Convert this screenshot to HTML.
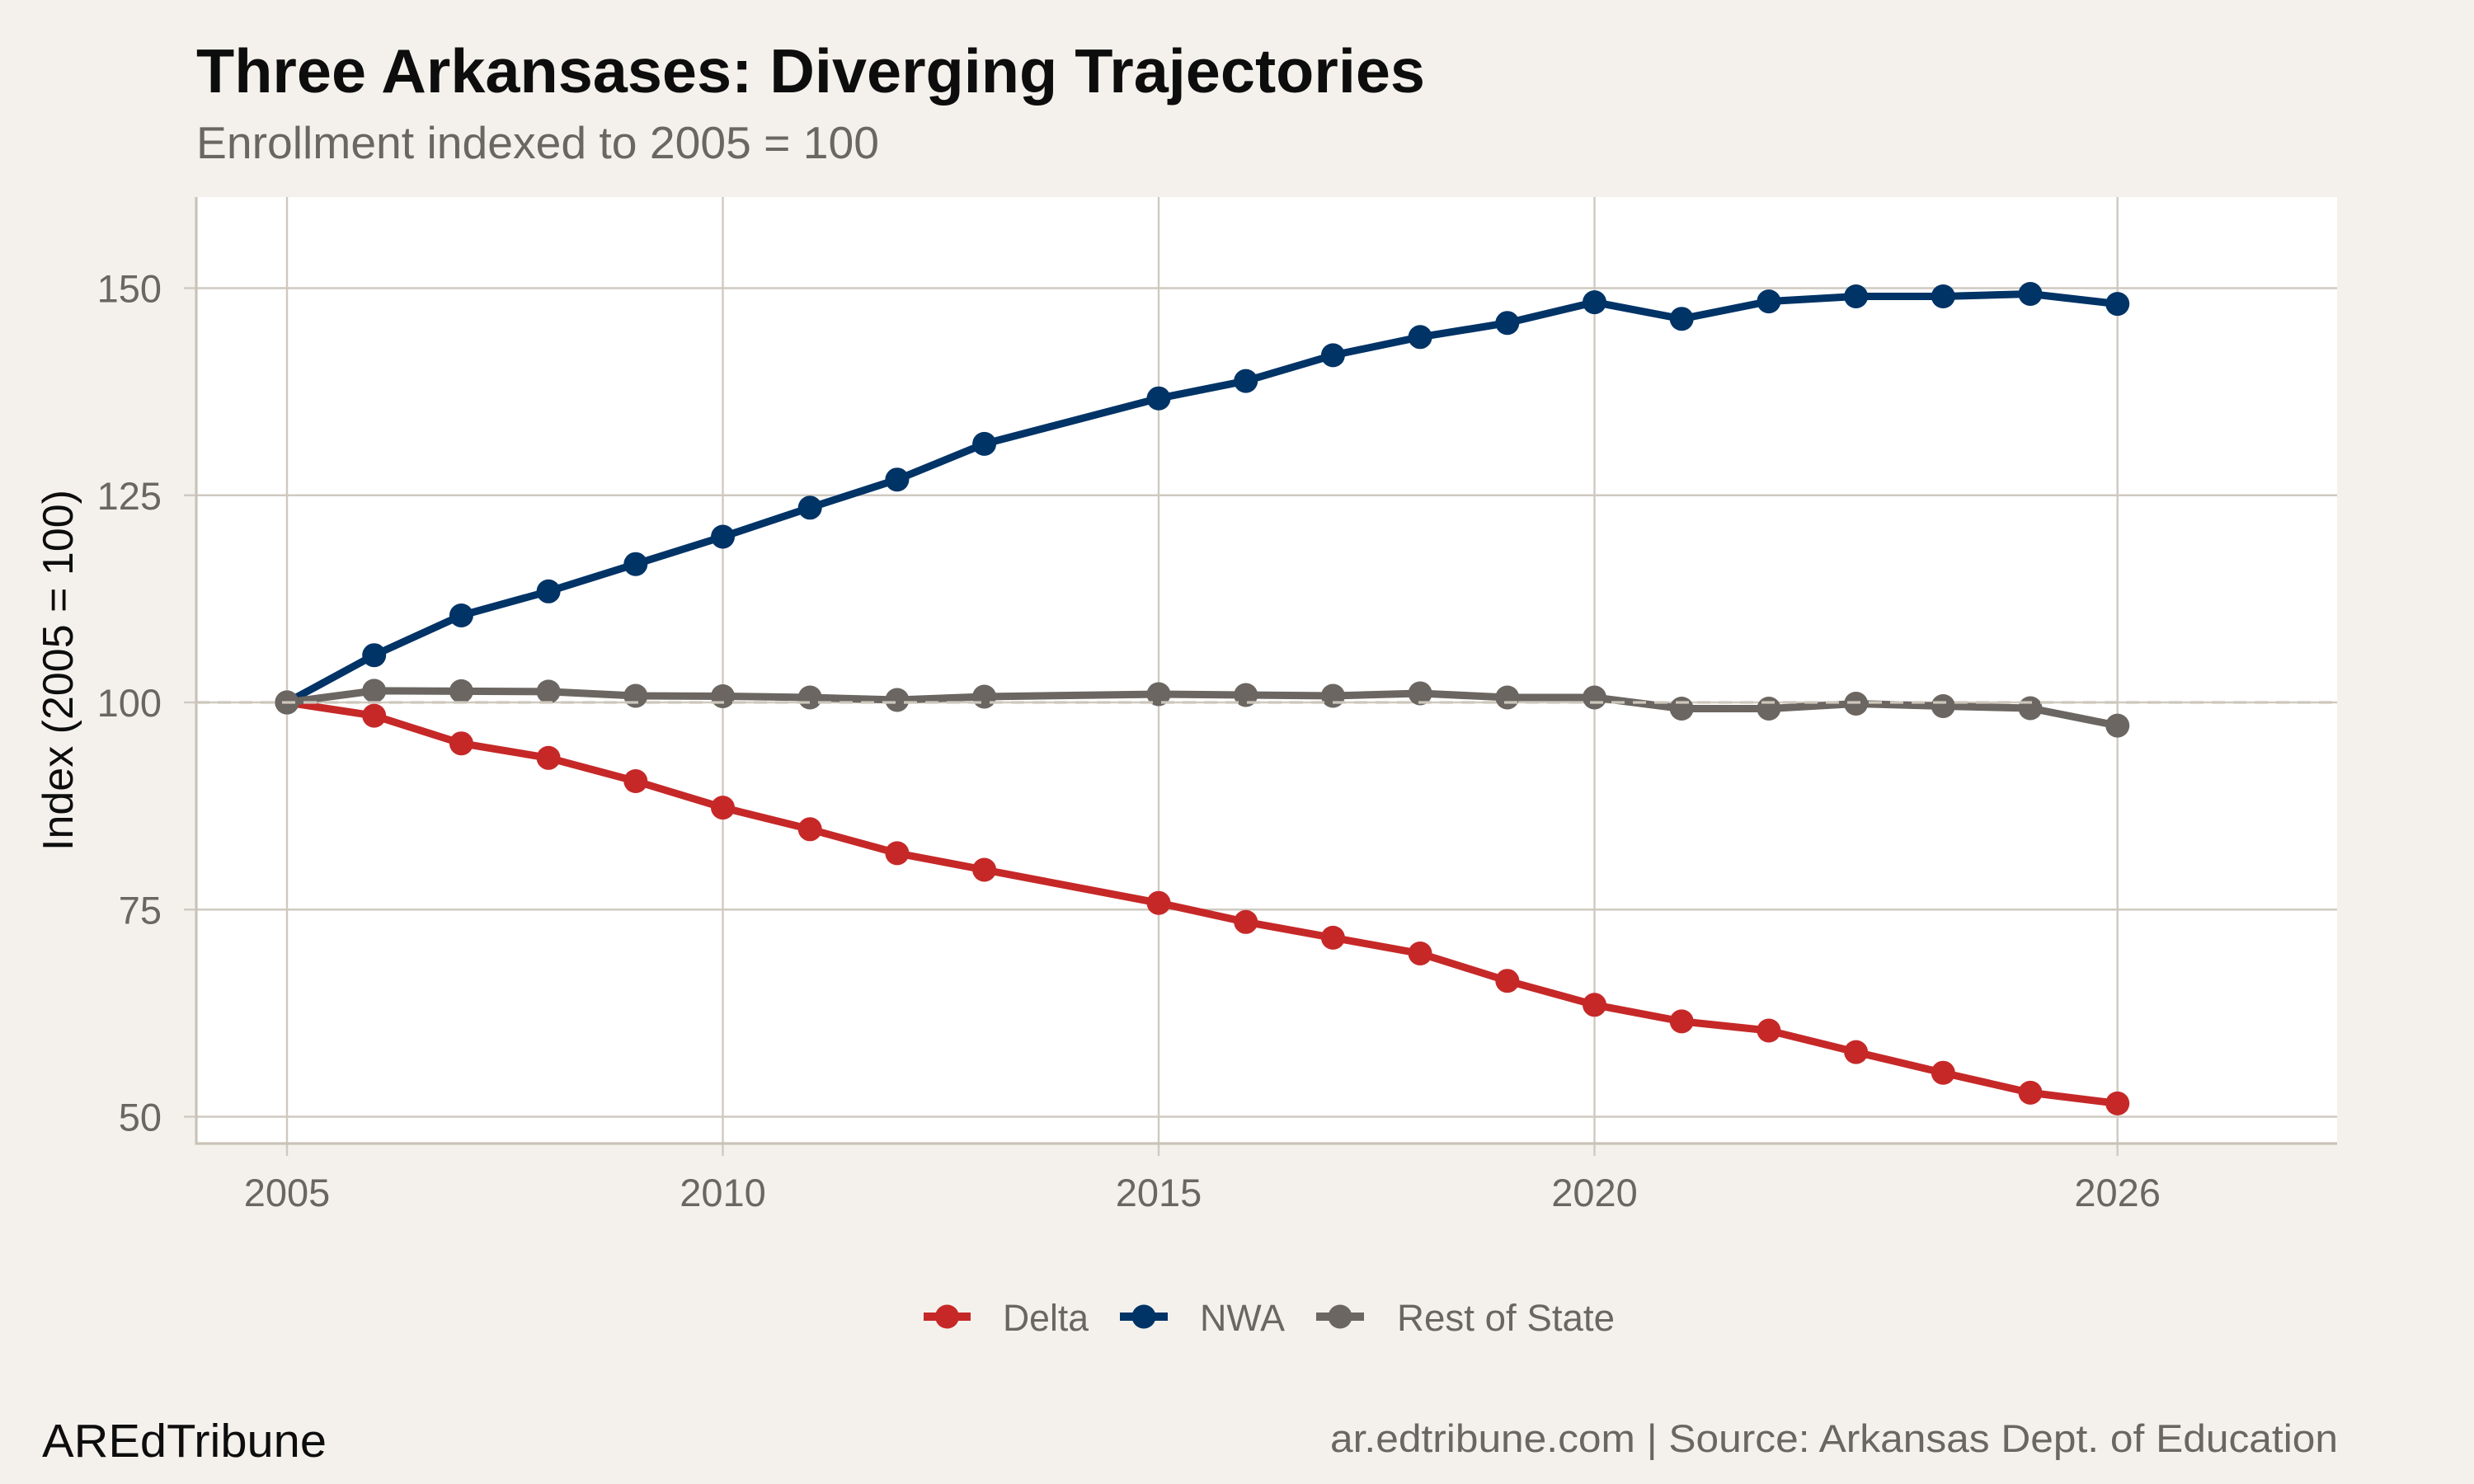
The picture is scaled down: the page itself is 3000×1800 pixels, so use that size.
<!DOCTYPE html>
<html><head><meta charset="utf-8"><style>
html,body{margin:0;padding:0;background:#f4f1ec;}
svg{display:block;}
text{font-family:"Liberation Sans",Arial,sans-serif;}
</style></head><body>
<svg width="3000" height="1800" viewBox="0 0 3000 1800" xmlns="http://www.w3.org/2000/svg">
<rect x="0" y="0" width="3000" height="1800" fill="#f4f1ec"/>
<!-- title -->
<text x="238" y="112" font-size="75" font-weight="bold" fill="#0d0d0d" textLength="1490" lengthAdjust="spacingAndGlyphs">Three Arkansases: Diverging Trajectories</text>
<text x="238" y="192" font-size="55" fill="#6b6661" textLength="828" lengthAdjust="spacingAndGlyphs">Enrollment indexed to 2005 = 100</text>
<!-- panel -->
<rect x="238" y="239" width="2596" height="1148" fill="#ffffff"/>
<g stroke="#cfc9c0" stroke-width="2.4" fill="none">
<line x1="238" y1="349.5" x2="2834" y2="349.5"/>
<line x1="238" y1="600.75" x2="2834" y2="600.75"/>
<line x1="238" y1="852" x2="2834" y2="852"/>
<line x1="238" y1="1103.25" x2="2834" y2="1103.25"/>
<line x1="238" y1="1354.5" x2="2834" y2="1354.5"/>
<line x1="348" y1="239" x2="348" y2="1387"/>
<line x1="876.5" y1="239" x2="876.5" y2="1387"/>
<line x1="1405" y1="239" x2="1405" y2="1387"/>
<line x1="1933.5" y1="239" x2="1933.5" y2="1387"/>
<line x1="2567.7" y1="239" x2="2567.7" y2="1387"/>
</g>
<!-- ticks -->
<g stroke="#cfc9c0" stroke-width="2.4">
<line x1="223" y1="349.5" x2="238" y2="349.5"/>
<line x1="223" y1="600.75" x2="238" y2="600.75"/>
<line x1="223" y1="852" x2="238" y2="852"/>
<line x1="223" y1="1103.25" x2="238" y2="1103.25"/>
<line x1="223" y1="1354.5" x2="238" y2="1354.5"/>
<line x1="348" y1="1387" x2="348" y2="1402"/>
<line x1="876.5" y1="1387" x2="876.5" y2="1402"/>
<line x1="1405" y1="1387" x2="1405" y2="1402"/>
<line x1="1933.5" y1="1387" x2="1933.5" y2="1402"/>
<line x1="2567.7" y1="1387" x2="2567.7" y2="1402"/>
</g>
<!-- axis lines -->
<g stroke="#c9c2b8" stroke-width="3.2">
<line x1="238" y1="239" x2="238" y2="1388.5"/>
<line x1="236.5" y1="1387" x2="2834" y2="1387"/>
</g>
<!-- series lines -->
<g fill="none" stroke-width="9" stroke-linejoin="round" stroke-linecap="butt">
<polyline stroke="#c62828" points="348,852 453.7,868.1 559.4,901.7 665.1,919.3 770.8,947.5 876.5,979.6 982.2,1005.8 1087.9,1034.9 1193.6,1055 1405,1095.2 1510.7,1118.3 1616.4,1137.4 1722.1,1156.5 1827.8,1189.7 1933.5,1218.8 2039.2,1238.9 2144.9,1250 2250.6,1276.1 2356.3,1301.2 2462,1325.4 2567.7,1338.4"/>
<polyline stroke="#003366" points="348,852 453.7,794.7 559.4,746.5 665.1,717.3 770.8,684.2 876.5,651 982.2,615.8 1087.9,581.7 1193.6,538.4 1405,483.2 1510.7,462.1 1616.4,430.9 1722.1,408.8 1827.8,391.7 1933.5,366.6 2039.2,386.7 2144.9,365.6 2250.6,359.5 2356.3,359.5 2462,356.5 2567.7,368.6"/>
<polyline stroke="#6b6661" points="348,852 453.7,837.9 559.4,838.4 665.1,838.9 770.8,844 876.5,844.5 982.2,846 1087.9,849 1193.6,845 1405,842 1510.7,843 1616.4,844 1722.1,841 1827.8,846 1933.5,846 2039.2,859.5 2144.9,859.5 2250.6,853.5 2356.3,856.5 2462,859 2567.7,880.1"/>
</g>
<!-- points -->
<g fill="#c62828">
<circle cx="348" cy="852" r="14.5"/><circle cx="453.7" cy="868.1" r="14.5"/><circle cx="559.4" cy="901.7" r="14.5"/><circle cx="665.1" cy="919.3" r="14.5"/><circle cx="770.8" cy="947.5" r="14.5"/><circle cx="876.5" cy="979.6" r="14.5"/><circle cx="982.2" cy="1005.8" r="14.5"/><circle cx="1087.9" cy="1034.9" r="14.5"/><circle cx="1193.6" cy="1055" r="14.5"/><circle cx="1405" cy="1095.2" r="14.5"/><circle cx="1510.7" cy="1118.3" r="14.5"/><circle cx="1616.4" cy="1137.4" r="14.5"/><circle cx="1722.1" cy="1156.5" r="14.5"/><circle cx="1827.8" cy="1189.7" r="14.5"/><circle cx="1933.5" cy="1218.8" r="14.5"/><circle cx="2039.2" cy="1238.9" r="14.5"/><circle cx="2144.9" cy="1250" r="14.5"/><circle cx="2250.6" cy="1276.1" r="14.5"/><circle cx="2356.3" cy="1301.2" r="14.5"/><circle cx="2462" cy="1325.4" r="14.5"/><circle cx="2567.7" cy="1338.4" r="14.5"/>
</g>
<g fill="#003366">
<circle cx="348" cy="852" r="14.5"/><circle cx="453.7" cy="794.7" r="14.5"/><circle cx="559.4" cy="746.5" r="14.5"/><circle cx="665.1" cy="717.3" r="14.5"/><circle cx="770.8" cy="684.2" r="14.5"/><circle cx="876.5" cy="651" r="14.5"/><circle cx="982.2" cy="615.8" r="14.5"/><circle cx="1087.9" cy="581.7" r="14.5"/><circle cx="1193.6" cy="538.4" r="14.5"/><circle cx="1405" cy="483.2" r="14.5"/><circle cx="1510.7" cy="462.1" r="14.5"/><circle cx="1616.4" cy="430.9" r="14.5"/><circle cx="1722.1" cy="408.8" r="14.5"/><circle cx="1827.8" cy="391.7" r="14.5"/><circle cx="1933.5" cy="366.6" r="14.5"/><circle cx="2039.2" cy="386.7" r="14.5"/><circle cx="2144.9" cy="365.6" r="14.5"/><circle cx="2250.6" cy="359.5" r="14.5"/><circle cx="2356.3" cy="359.5" r="14.5"/><circle cx="2462" cy="356.5" r="14.5"/><circle cx="2567.7" cy="368.6" r="14.5"/>
</g>
<g fill="#6b6661">
<circle cx="348" cy="852" r="14.5"/><circle cx="453.7" cy="837.9" r="14.5"/><circle cx="559.4" cy="838.4" r="14.5"/><circle cx="665.1" cy="838.9" r="14.5"/><circle cx="770.8" cy="844" r="14.5"/><circle cx="876.5" cy="844.5" r="14.5"/><circle cx="982.2" cy="846" r="14.5"/><circle cx="1087.9" cy="849" r="14.5"/><circle cx="1193.6" cy="845" r="14.5"/><circle cx="1405" cy="842" r="14.5"/><circle cx="1510.7" cy="843" r="14.5"/><circle cx="1616.4" cy="844" r="14.5"/><circle cx="1722.1" cy="841" r="14.5"/><circle cx="1827.8" cy="846" r="14.5"/><circle cx="1933.5" cy="846" r="14.5"/><circle cx="2039.2" cy="859.5" r="14.5"/><circle cx="2144.9" cy="859.5" r="14.5"/><circle cx="2250.6" cy="853.5" r="14.5"/><circle cx="2356.3" cy="856.5" r="14.5"/><circle cx="2462" cy="859" r="14.5"/><circle cx="2567.7" cy="880.1" r="14.5"/>
</g>
<!-- dashed reference line -->
<line x1="238" y1="852" x2="2834" y2="852" stroke="#cdc6bb" stroke-width="3.2" stroke-dasharray="16,10"/>
<!-- y tick labels -->
<g font-size="47" fill="#6b6661" text-anchor="end">
<text x="196" y="366.5">150</text>
<text x="196" y="617.75">125</text>
<text x="196" y="869">100</text>
<text x="196" y="1120.25">75</text>
<text x="196" y="1371.5">50</text>
</g>
<!-- x tick labels -->
<g font-size="47" fill="#6b6661" text-anchor="middle">
<text x="348" y="1463">2005</text>
<text x="876.5" y="1463">2010</text>
<text x="1405" y="1463">2015</text>
<text x="1933.5" y="1463">2020</text>
<text x="2567.7" y="1463">2026</text>
</g>
<!-- y axis title -->
<text transform="translate(88,813) rotate(-90)" font-size="52" fill="#0d0d0d" text-anchor="middle">Index (2005 = 100)</text>
<!-- legend -->
<g stroke-width="10">
<line x1="1120" y1="1597" x2="1177" y2="1597" stroke="#c62828"/>
<line x1="1358" y1="1597" x2="1416" y2="1597" stroke="#003366"/>
<line x1="1596" y1="1597" x2="1654" y2="1597" stroke="#6b6661"/>
</g>
<circle cx="1148.5" cy="1597" r="14.5" fill="#c62828"/>
<circle cx="1387" cy="1597" r="14.5" fill="#003366"/>
<circle cx="1625" cy="1597" r="14.5" fill="#6b6661"/>
<g font-size="45" fill="#6b6661">
<text x="1216" y="1614" textLength="104" lengthAdjust="spacingAndGlyphs">Delta</text>
<text x="1455" y="1614" textLength="103" lengthAdjust="spacingAndGlyphs">NWA</text>
<text x="1694" y="1614" textLength="264" lengthAdjust="spacingAndGlyphs">Rest of State</text>
</g>
<!-- footer -->
<text x="51" y="1767" font-size="57" fill="#0d0d0d" textLength="345" lengthAdjust="spacingAndGlyphs">AREdTribune</text>
<text x="2835" y="1761" font-size="47" fill="#6b6661" text-anchor="end" textLength="1222" lengthAdjust="spacingAndGlyphs">ar.edtribune.com | Source: Arkansas Dept. of Education</text>
</svg>
</body></html>
